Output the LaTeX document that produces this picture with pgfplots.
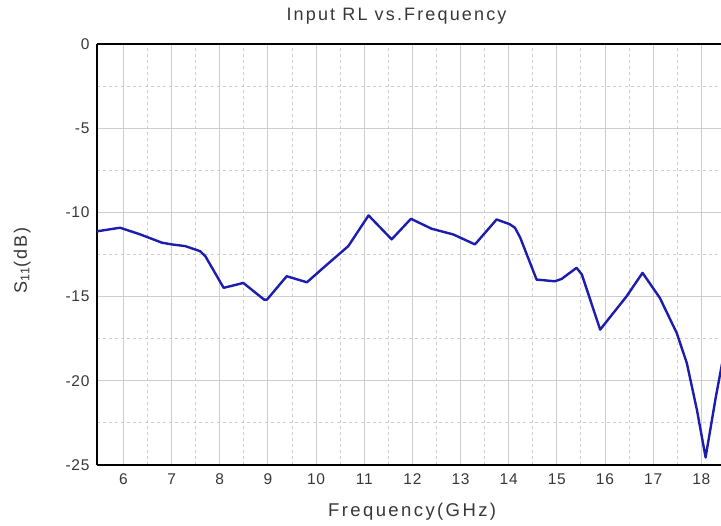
\documentclass[border=0pt]{standalone}
\usepackage{fontspec}
\setmainfont{Liberation Sans}
\usepackage{pgfplots}
\pgfplotsset{compat=1.18}
\definecolor{curve}{RGB}{28,28,175}
\definecolor{gridc}{RGB}{205,205,205}
\definecolor{txt}{RGB}{55,55,55}
\begin{document}
\begin{tikzpicture}
\begin{axis}[name=ax, scale only axis, width=624pt, height=421pt,
  xmin=5.45, xmax=18.41, ymin=-25, ymax=0,
  axis x line*=box, axis y line*=left,
  xtick={6,...,18}, ytick={-25,-20,-15,-10,-5,0},
  yticklabels={-25,-20,-15,-10,-5,0},
  /pgf/number format/assume math mode=true,
  minor x tick num=1, minor y tick num=1,
  grid=both,
  major grid style={gridc, line width=0.9pt},
  minor grid style={gridc, dash pattern=on 3pt off 3pt, line width=0.9pt},
  major tick length=0pt, minor tick length=0pt,
  axis line style={black, line width=1.8pt},
  tick label style={font=\fontsize{15.5}{18}\selectfont\addfontfeatures{LetterSpace=5}, text=txt},
  xticklabel style={yshift=-5pt},
  yticklabel style={xshift=-4pt},
  title={Input RL vs.Frequency},
  title style={at={(rel axis cs:0.48,1.052)}, anchor=center, font=\fontsize{18}{21}\selectfont\addfontfeatures{LetterSpace=12}, text=txt},
  xlabel={Frequency(GHz)},
  xlabel style={at={(rel axis cs:0.505,-0.1116)}, anchor=center, font=\fontsize{18.5}{21}\selectfont\addfontfeatures{LetterSpace=13}, text=txt},
  ylabel={S\textsubscript{11}(dB)},
  ylabel style={at={(rel axis cs:-0.12,0.485)}, anchor=center, font=\fontsize{18}{21}\selectfont\addfontfeatures{LetterSpace=10}, text=txt},
]
\addplot[curve, line width=2.4pt, line join=round] coordinates {
(5.40,-11.18) (5.48,-11.11) (5.93,-10.91) (6.35,-11.31) (6.80,-11.80) (7.00,-11.90)
(7.28,-12.00) (7.59,-12.30) (7.70,-12.60) (8.08,-14.48) (8.49,-14.19) (8.92,-15.18)
(8.98,-15.18) (9.39,-13.79) (9.81,-14.15) (10.15,-13.29) (10.67,-12.00) (11.09,-10.18)
(11.57,-11.60) (11.97,-10.38) (12.40,-10.97) (12.85,-11.31) (13.30,-11.90) (13.75,-10.42)
(14.02,-10.70) (14.13,-10.91) (14.24,-11.50) (14.58,-13.99) (14.96,-14.09) (15.10,-13.95)
(15.41,-13.29) (15.52,-13.69) (15.90,-16.96) (16.45,-14.98) (16.78,-13.59) (17.14,-15.08)
(17.49,-17.16) (17.70,-18.95) (17.91,-21.73) (18.09,-24.55) (18.30,-21.00) (18.45,-18.70)
};
\end{axis}
\pgfresetboundingbox
\path[use as bounding box] ([xshift=-97pt,yshift=-61pt]ax.south west) rectangle ([yshift=44pt]ax.north east);
\end{tikzpicture}
\end{document}
